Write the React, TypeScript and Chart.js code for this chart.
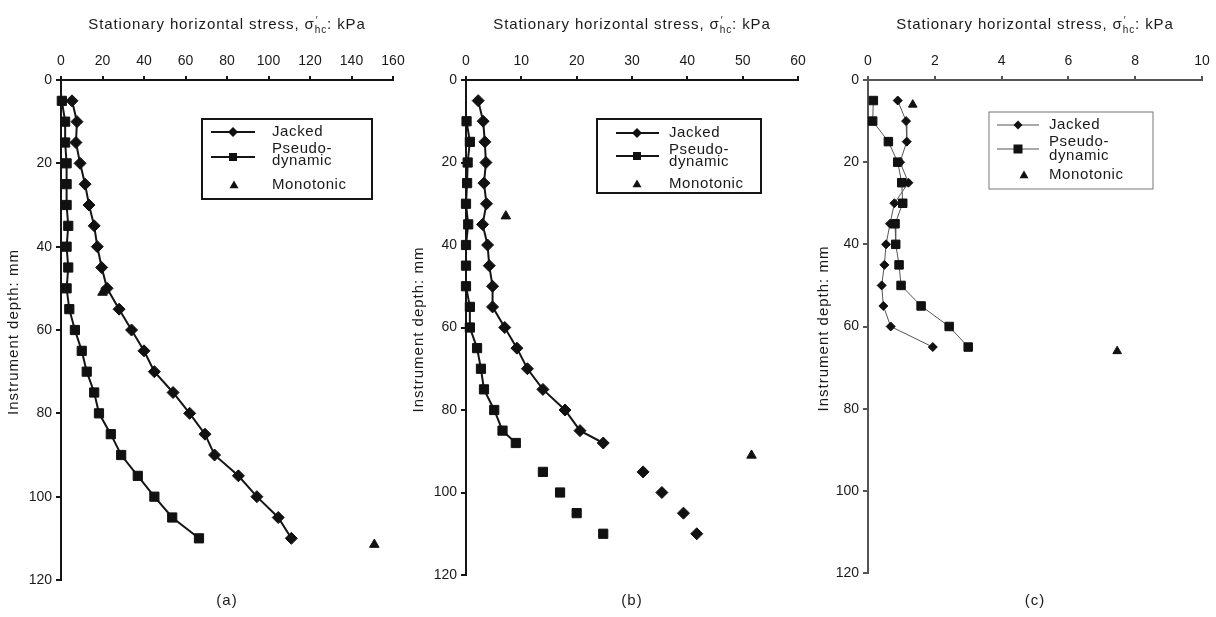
import React, { useEffect, useRef } from "react";
import { Chart, registerables } from "chart.js";

Chart.register(...registerables);

const FONT = "'Liberation Sans', Arial, Helvetica, sans-serif";

// ---------- Panel (a) ----------
const aDepth = [5, 10, 15, 20, 25, 30, 35, 40, 45, 50, 55, 60, 65, 70, 75, 80, 85, 90, 95, 100, 105, 110];
const aJacked = [5.3, 7.7, 7.2, 9.2, 11.6, 13.5, 16, 17.5, 19.6, 22.2, 28, 34, 40, 45, 54, 62, 69.4, 74, 85.5, 94.4, 104.7, 111];
const aPseudo = [0.4, 2, 2, 2.7, 2.7, 2.7, 3.5, 2.7, 3.5, 2.7, 4, 6.7, 10, 12.4, 16, 18.3, 24, 29, 37, 45, 53.6, 66.5];
const aMonoDepth = [51, 111.5];
const aMono = [20, 151];

// ---------- Panel (b) ----------
const bJackedDepth = [5, 10, 15, 20, 25, 30, 35, 40, 45, 50, 55, 60, 65, 70, 75, 80, 85, 88];
const bJacked = [2.2, 3.1, 3.4, 3.6, 3.25, 3.7, 3.0, 3.9, 4.2, 4.8, 4.8, 7, 9.2, 11.1, 13.9, 17.9, 20.6, 24.8];
const bJackedTailDepth = [95, 100, 105, 110];
const bJackedTail = [32, 35.4, 39.3, 41.7];
const bPseudoDepth = [10, 15, 20, 25, 30, 35, 40, 45, 50, 55, 60, 65, 70, 75, 80, 85, 88];
const bPseudo = [0.1, 0.7, 0.3, 0.2, 0, 0.4, 0, 0, 0, 0.7, 0.7, 2, 2.7, 3.25, 5.1, 6.6, 9];
const bPseudoTailDepth = [95, 100, 105, 110];
const bPseudoTail = [13.9, 17, 20, 24.8];
const bMonoDepth = [33, 91];
const bMono = [7.2, 51.6];

// ---------- Panel (c) ----------
const cDepth = [5, 10, 15, 20, 25, 30, 35, 40, 45, 50, 55, 60, 65];
const cJacked = [0.89, 1.14, 1.16, 0.96, 1.21, 0.79, 0.66, 0.54, 0.49, 0.41, 0.46, 0.68, 1.94];
const cPseudo = [0.16, 0.14, 0.61, 0.89, 1.01, 1.04, 0.81, 0.83, 0.93, 0.99, 1.59, 2.43, 3.0];
const cMonoDepth = [6, 66];
const cMono = [1.34, 7.46];

// ---------- Text ----------
const seriesNames = ["Jacked", "Pseudo-dynamic", "Monotonic"];
const legendPseudoLines = ["Pseudo-", "dynamic"];
const panelLabels = ["(a)", "(b)", "(c)"];
const xTitleMain = "Stationary horizontal stress, σ";
const xTitleSup = "′";
const xTitleSub = "hc";
const xTitleTail = ": kPa";
const yTitle = "Instrument depth: mm";
const depthMax = 120;
const depthStep = 20;
const xMaxes = [160, 60, 10];
const xSteps = [20, 10, 2];

const zip = (xs: number[], ys: number[]) => xs.map((x, i) => ({ x, y: ys[i] }));

type Legend = {
  x: number; y: number; w: number; h: number;
  border: string; borderWidth: number;
  x1: number; x2: number; mx: number; triX: number; textX: number;
  jy: number; py: number; pt1: number; pt2: number; my: number;
  lineColor: string; lineWidth: number; dR: number; sS: number;
};

type Panel = {
  left: number; width: number; yAxisWidth: number; padRight: number; padBottom: number;
  xMax: number; xStep: number; label: string; axisColor: string; axisWidth: number;
  datasets: any[]; legend: Legend;
};

function mkLine(label: string, data: any[], style: string, r: number, lineColor: string, lw: number, showLine = true) {
  return {
    label,
    data,
    showLine,
    borderColor: lineColor,
    borderWidth: lw,
    backgroundColor: "#111",
    pointStyle: style,
    pointRadius: r,
    pointBorderColor: "#111",
    pointBackgroundColor: "#111",
    pointBorderWidth: 1,
    clip: false,
  };
}

function buildPanels(): Panel[] {
  const dark = "#151515";
  const gray = "#555";
  return [
    {
      left: 0, width: 417, yAxisWidth: 61, padRight: 24, padBottom: 37,
      xMax: xMaxes[0], xStep: xSteps[0], label: panelLabels[0], axisColor: dark, axisWidth: 2,
      datasets: [
        mkLine(seriesNames[0], zip(aJacked, aDepth), "rectRot", 6, dark, 2),
        mkLine(seriesNames[1], zip(aPseudo, aDepth), "rect", 6.5, dark, 2),
        mkLine(seriesNames[2], zip(aMono, aMonoDepth), "triangle", 5.5, dark, 0, false),
      ],
      legend: {
        x: 202, y: 119, w: 170, h: 80, border: dark, borderWidth: 2,
        x1: 211, x2: 255, mx: 233, triX: 234, textX: 272,
        jy: 132, py: 157, pt1: 149, pt2: 161, my: 185,
        lineColor: dark, lineWidth: 2, dR: 5, sS: 8,
      },
    },
    {
      left: 405, width: 417, yAxisWidth: 61, padRight: 24, padBottom: 42,
      xMax: xMaxes[1], xStep: xSteps[1], label: panelLabels[1], axisColor: dark, axisWidth: 2,
      datasets: [
        mkLine(seriesNames[0], zip(bJacked, bJackedDepth), "rectRot", 6, dark, 2),
        mkLine(seriesNames[1], zip(bPseudo, bPseudoDepth), "rect", 6.5, dark, 2),
        mkLine(seriesNames[0], zip(bJackedTail, bJackedTailDepth), "rectRot", 6, dark, 0, false),
        mkLine(seriesNames[1], zip(bPseudoTail, bPseudoTailDepth), "rect", 6.5, dark, 0, false),
        mkLine(seriesNames[2], zip(bMono, bMonoDepth), "triangle", 5.5, dark, 0, false),
      ],
      legend: {
        x: 192, y: 119, w: 164, h: 74, border: dark, borderWidth: 2,
        x1: 211, x2: 254, mx: 232, triX: 232, textX: 264,
        jy: 133, py: 156, pt1: 150, pt2: 162, my: 184,
        lineColor: dark, lineWidth: 2, dR: 5, sS: 8,
      },
    },
    {
      left: 810, width: 416, yAxisWidth: 58, padRight: 24, padBottom: 44,
      xMax: xMaxes[2], xStep: xSteps[2], label: panelLabels[2], axisColor: gray, axisWidth: 2,
      datasets: [
        mkLine(seriesNames[0], zip(cJacked, cDepth), "rectRot", 4.5, gray, 1),
        mkLine(seriesNames[1], zip(cPseudo, cDepth), "rect", 6, gray, 1),
        mkLine(seriesNames[2], zip(cMono, cMonoDepth), "triangle", 5, gray, 0, false),
      ],
      legend: {
        x: 179, y: 112, w: 164, h: 77, border: "#777", borderWidth: 1,
        x1: 187, x2: 229, mx: 208, triX: 214, textX: 239,
        jy: 125, py: 149, pt1: 142, pt2: 156, my: 175,
        lineColor: gray, lineWidth: 1, dR: 4.5, sS: 9,
      },
    },
  ];
}

function drawDiamond(ctx: CanvasRenderingContext2D, x: number, y: number, r: number) {
  ctx.beginPath();
  ctx.moveTo(x, y - r);
  ctx.lineTo(x + r, y);
  ctx.lineTo(x, y + r);
  ctx.lineTo(x - r, y);
  ctx.closePath();
  ctx.fill();
}
function drawSquare(ctx: CanvasRenderingContext2D, x: number, y: number, s: number) {
  ctx.fillRect(x - s / 2, y - s / 2, s, s);
}
function drawTriangle(ctx: CanvasRenderingContext2D, x: number, y: number, r: number) {
  ctx.beginPath();
  ctx.moveTo(x, y - r);
  ctx.lineTo(x + r, y + r * 0.7);
  ctx.lineTo(x - r, y + r * 0.7);
  ctx.closePath();
  ctx.fill();
}

const decorPlugin = {
  id: "decor",
  afterDraw(chart: any, _args: any, opts: any) {
    const ctx: any = chart.ctx;
    const ca = chart.chartArea;
    const cx = (ca.left + ca.right) / 2;
    const cy = (ca.top + ca.bottom) / 2;
    ctx.save();
    ctx.fillStyle = "#1a1a1a";

    // x axis title with superscript / subscript
    const f1 = `15px ${FONT}`;
    const f2 = `10px ${FONT}`;
    ctx.letterSpacing = "0.9px";
    ctx.font = f1;
    const w1 = ctx.measureText(xTitleMain).width;
    const w4 = ctx.measureText(xTitleTail).width;
    ctx.font = f2;
    const w23 = Math.max(ctx.measureText(xTitleSup).width, ctx.measureText(xTitleSub).width);
    let x = cx - (w1 + w23 + w4) / 2;
    const by = 29;
    ctx.textAlign = "left";
    ctx.textBaseline = "alphabetic";
    ctx.font = f1;
    ctx.fillText(xTitleMain, x, by);
    x += w1;
    ctx.font = f2;
    ctx.fillText(xTitleSup, x + 1, by - 5);
    ctx.fillText(xTitleSub, x, by + 4);
    x += w23;
    ctx.font = f1;
    ctx.fillText(xTitleTail, x, by);

    // y axis title (rotated)
    ctx.save();
    ctx.letterSpacing = "1px";
    ctx.font = `15px ${FONT}`;
    ctx.translate(14, cy + 2);
    ctx.rotate(-Math.PI / 2);
    ctx.textAlign = "center";
    ctx.textBaseline = "middle";
    ctx.fillText(yTitle, 0, 0);
    ctx.restore();

    // panel label
    ctx.letterSpacing = "1px";
    ctx.font = `15px ${FONT}`;
    ctx.textAlign = "center";
    ctx.textBaseline = "middle";
    ctx.fillText(opts.label, cx, 601);

    // legend
    const L: Legend = opts.legend;
    ctx.strokeStyle = L.border;
    ctx.lineWidth = L.borderWidth;
    ctx.strokeRect(L.x, L.y, L.w, L.h);
    ctx.strokeStyle = L.lineColor;
    ctx.lineWidth = L.lineWidth;
    ctx.beginPath();
    ctx.moveTo(L.x1, L.jy);
    ctx.lineTo(L.x2, L.jy);
    ctx.moveTo(L.x1, L.py);
    ctx.lineTo(L.x2, L.py);
    ctx.stroke();
    ctx.fillStyle = "#111";
    drawDiamond(ctx, L.mx, L.jy, L.dR);
    drawSquare(ctx, L.mx, L.py, L.sS);
    drawTriangle(ctx, L.triX, L.my, 4.5);
    ctx.fillStyle = "#1a1a1a";
    ctx.letterSpacing = "0.6px";
    ctx.font = `15px ${FONT}`;
    ctx.textAlign = "left";
    ctx.textBaseline = "middle";
    ctx.fillText(seriesNames[0], L.textX, L.jy);
    ctx.fillText(legendPseudoLines[0], L.textX, L.pt1);
    ctx.fillText(legendPseudoLines[1], L.textX, L.pt2);
    ctx.fillText(seriesNames[2], L.textX, L.my);
    ctx.restore();
  },
};

function PanelChart({ p }: { p: Panel }) {
  const ref = useRef<HTMLCanvasElement | null>(null);
  useEffect(() => {
    if (!ref.current) return;
    const chart = new Chart(ref.current, {
      type: "scatter",
      data: { datasets: p.datasets },
      plugins: [decorPlugin as any],
      options: {
        responsive: false,
        animation: false,
        devicePixelRatio: 1,
        layout: { padding: { left: 0, top: 0, right: p.padRight, bottom: p.padBottom } },
        plugins: {
          legend: { display: false },
          tooltip: { enabled: false },
          decor: { label: p.label, legend: p.legend },
        } as any,
        scales: {
          x: {
            type: "linear",
            position: "top",
            min: 0,
            max: p.xMax,
            ticks: { stepSize: p.xStep, color: "#1a1a1a", font: { family: FONT, size: 14 }, padding: 6, maxRotation: 0 },
            grid: { drawOnChartArea: false, tickLength: 4, color: p.axisColor, lineWidth: p.axisWidth },
            border: { color: p.axisColor, width: p.axisWidth },
            afterFit: (s: any) => { s.height = 80; },
          },
          y: {
            type: "linear",
            position: "left",
            reverse: true,
            min: 0,
            max: depthMax,
            ticks: { stepSize: depthStep, color: "#1a1a1a", font: { family: FONT, size: 14 }, padding: 4 },
            grid: { drawOnChartArea: false, tickLength: 5, color: p.axisColor, lineWidth: p.axisWidth },
            border: { color: p.axisColor, width: p.axisWidth },
            title: { display: false, text: yTitle },
            afterFit: (s: any) => { s.width = p.yAxisWidth; },
          },
        },
      } as any,
    });
    return () => chart.destroy();
  }, [p]);
  return (
    <div style={{ position: "absolute", left: p.left, top: 0, width: p.width, height: 617 }}>
      <canvas ref={ref} width={p.width} height={617} style={{ width: p.width, height: 617, display: "block" }} />
    </div>
  );
}

const panels = buildPanels();

export default function App() {
  return (
    <div style={{ position: "absolute", left: 0, top: 0, width: 1216, height: 617, background: "#fff", overflow: "hidden" }}>
      {panels.map((p, i) => (
        <PanelChart key={i} p={p} />
      ))}
    </div>
  );
}
